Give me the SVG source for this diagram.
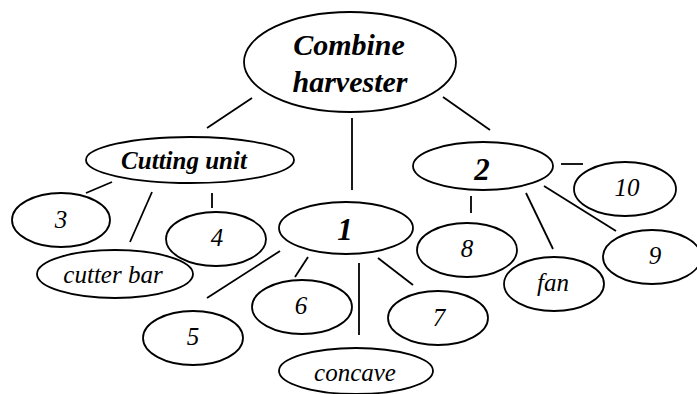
<svg xmlns="http://www.w3.org/2000/svg" width="697" height="394" viewBox="0 0 697 394">
<rect width="697" height="394" fill="#fff"/>
<g id="connectors" stroke="#000" stroke-width="1.8">
  <line x1="252" y1="98" x2="207" y2="128"/>
  <line x1="352" y1="118" x2="352" y2="190"/>
  <line x1="443" y1="97" x2="490" y2="130"/>
  <line x1="86" y1="193" x2="112" y2="182"/>
  <line x1="152" y1="192" x2="130" y2="242"/>
  <line x1="212" y1="193" x2="212" y2="208"/>
  <line x1="280" y1="251" x2="207" y2="298"/>
  <line x1="308" y1="257" x2="295" y2="277"/>
  <line x1="359" y1="263" x2="359" y2="335"/>
  <line x1="378" y1="258" x2="413" y2="285"/>
  <line x1="561" y1="164" x2="583" y2="164"/>
  <line x1="471" y1="196" x2="471" y2="213"/>
  <line x1="526" y1="193" x2="553" y2="249"/>
  <line x1="544" y1="186" x2="616" y2="231"/>
</g>
<g id="nodes" font-family="Liberation Serif" font-style="italic" font-size="25" text-anchor="middle">
<g id="combine">
  <ellipse cx="350" cy="62" rx="106" ry="50" fill="#fff" stroke="#000" stroke-width="1.8"/>
  <text x="349" y="55" font-size="30" font-weight="bold">Combine</text>
  <text x="350" y="92" font-size="30" font-weight="bold">harvester</text>
</g>
<g id="cutting">
  <ellipse cx="190" cy="160" rx="104" ry="23" fill="#fff" stroke="#000" stroke-width="1.8"/>
  <text x="184" y="169" font-weight="bold">Cutting unit</text>
</g>
<g id="n3">
  <ellipse cx="61" cy="220" rx="49" ry="27" fill="#fff" stroke="#000" stroke-width="1.8"/>
  <text x="61" y="228">3</text>
</g>
<g id="n4">
  <ellipse cx="216" cy="239" rx="50" ry="27" fill="#fff" stroke="#000" stroke-width="1.8"/>
  <text x="217" y="246">4</text>
</g>
<g id="cutterbar">
  <ellipse cx="115" cy="274" rx="78" ry="24" fill="#fff" stroke="#000" stroke-width="1.8"/>
  <text x="113" y="283">cutter bar</text>
</g>
<g id="n1">
  <ellipse cx="346" cy="228" rx="67" ry="26" fill="#fff" stroke="#000" stroke-width="1.8"/>
  <text x="345" y="240" font-size="31" font-weight="bold">1</text>
</g>
<g id="n5">
  <ellipse cx="193" cy="338" rx="50" ry="27" fill="#fff" stroke="#000" stroke-width="1.8"/>
  <text x="193" y="345">5</text>
</g>
<g id="n6">
  <ellipse cx="302" cy="307" rx="50" ry="27" fill="#fff" stroke="#000" stroke-width="1.8"/>
  <text x="301" y="314">6</text>
</g>
<g id="n7">
  <ellipse cx="438" cy="318" rx="50" ry="27" fill="#fff" stroke="#000" stroke-width="1.8"/>
  <text x="439" y="326">7</text>
</g>
<g id="concave">
  <ellipse cx="356" cy="371" rx="77" ry="23" fill="#fff" stroke="#000" stroke-width="1.8"/>
  <text x="355" y="381">concave</text>
</g>
<g id="n2">
  <ellipse cx="483" cy="166" rx="70" ry="24" fill="#fff" stroke="#000" stroke-width="1.8"/>
  <text x="482" y="180" font-size="31" font-weight="bold">2</text>
</g>
<g id="n10">
  <ellipse cx="625" cy="189" rx="51" ry="27" fill="#fff" stroke="#000" stroke-width="1.8"/>
  <text x="627" y="196">10</text>
</g>
<g id="n8">
  <ellipse cx="467" cy="250" rx="50" ry="27" fill="#fff" stroke="#000" stroke-width="1.8"/>
  <text x="467" y="257">8</text>
</g>
<g id="fan">
  <ellipse cx="554" cy="284" rx="50" ry="27" fill="#fff" stroke="#000" stroke-width="1.8"/>
  <text x="553" y="291">fan</text>
</g>
<g id="n9">
  <ellipse cx="652" cy="257" rx="49" ry="27" fill="#fff" stroke="#000" stroke-width="1.8"/>
  <text x="655" y="264">9</text>
</g>
</g>
</svg>
